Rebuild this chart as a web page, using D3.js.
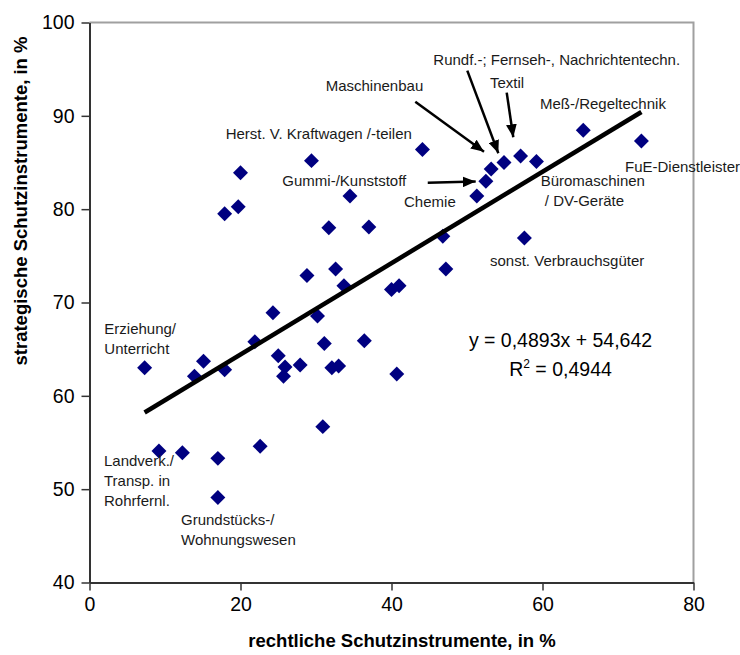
<!DOCTYPE html>
<html lang="de">
<head>
  <meta charset="UTF-8">
  <title>Schutzinstrumente</title>
  <script src="https://d3js.org/d3.v7.min.js"></script>
  <style>
    body { margin: 0; background: #fff; }
    svg { display: block; font-family: "Liberation Sans", Arial, sans-serif; }
    .tick text { font-size: 19.5px; fill: #000; }
    .lbl { font-size: 15px; fill: #1a1a1a; }
  </style>
</head>
<body>
  <svg id="chart" width="740" height="655"></svg>
  <script>
    // rechtliche Schutzinstrumente (x) / strategische Schutzinstrumente (y), in %
    const rechtlich = [7.3, 9.2, 12.3, 13.9, 15.1, 17.0, 17.0, 17.9, 17.9, 19.7, 20.0, 21.9, 22.6, 24.3, 25.0, 25.9,
      25.7, 27.9, 28.8, 29.4, 30.2, 30.9, 31.1, 31.7, 32.1, 33.0, 32.6, 33.7, 34.5, 36.4, 37.0, 40.0, 41.0, 40.7,
      44.1, 46.8, 47.2, 51.3, 52.5, 53.2, 54.9, 57.1, 59.2, 57.6, 65.4, 73.1];
    const strategisch = [63.0, 54.1, 53.9, 62.1, 63.7, 53.3, 49.1, 62.8, 79.5, 80.25, 83.9, 65.8, 54.6, 68.9, 64.3, 63.1,
      62.1, 63.3, 72.9, 85.2, 68.55, 56.7, 65.6, 78.0, 63.0, 63.2, 73.6, 71.8, 81.4, 65.9, 78.1, 71.4, 71.8, 62.35,
      86.4, 77.1, 73.6, 81.4, 83.0, 84.3, 85.0, 85.7, 85.1, 76.9, 88.45, 87.3];

    const xTicks = [0, 20, 40, 60, 80];
    const yTicks = [40, 50, 60, 70, 80, 90, 100];

    // linear trend line as given in the chart
    const slope = 0.4893;
    const intercept = 54.642;

    // branch labels: anchor in data units (left edge, first line centre)
    const labels = [
      { text: ["Rundf.-; Fernseh-, Nachrichtentechn."], x: 45.54, y: 96.06 },
      { text: ["Maschinenbau"], x: 31.28, y: 93.2 },
      { text: ["Textil"], x: 53.05, y: 93.55 },
      { text: ["Meß-/Regeltechnik"], x: 59.67, y: 91.32 },
      { text: ["Herst. V. Kraftwagen /-teilen"], x: 18.04, y: 88.13 },
      { text: ["FuE-Dienstleister"], x: 70.93, y: 84.52 },
      { text: ["Gummi-/Kunststoff"], x: 25.54, y: 83.05 },
      { text: ["Büromaschinen", " / DV-Geräte"], x: 59.76, y: 83.05 },
      { text: ["Chemie"], x: 41.66, y: 80.8 },
      { text: ["sonst. Verbrauchsgüter"], x: 53.05, y: 74.52 },
      { text: ["Erziehung/", "Unterricht"], x: 1.96, y: 67.16 },
      { text: ["Landverk./", "Transp. in", "Rohrfernl."], x: 1.92, y: 53.05 },
      { text: ["Grundstücks-/", "Wohnungswesen"], x: 12.12, y: 46.77 }
    ];

    // arrows from label to point, data units
    const arrows = [
      { x1: 43.15, y1: 91.5, x2: 52.25, y2: 86.15 },
      { x1: 50.04, y1: 94.84, x2: 54.15, y2: 85.99 },
      { x1: 55.26, y1: 92.48, x2: 56.13, y2: 87.7 },
      { x1: 44.8, y1: 82.83, x2: 51.15, y2: 82.96 }
    ];

    const svg = d3.select("#chart");
    const mLeft = 89.5, mRight = 693.5, mTop = 22.5, mBottom = 582.5;

    const x = d3.scaleLinear().domain([0, 80]).range([mLeft, mRight]);
    const y = d3.scaleLinear().domain([40, 100]).range([mBottom, mTop]);

    // plot frame (grey top/right)
    svg.append("path")
      .attr("d", `M${mLeft},${mTop}H${mRight}V${mBottom}`)
      .attr("fill", "none")
      .attr("stroke", "#a0a0a0")
      .attr("stroke-width", 2);

    const yAxis = svg.append("g")
      .attr("transform", `translate(${mLeft},0)`)
      .call(d3.axisLeft(y).tickValues(yTicks).tickSize(8).tickSizeOuter(0).tickPadding(7).tickFormat(d3.format("d")));
    const xAxis = svg.append("g")
      .attr("transform", `translate(0,${mBottom})`)
      .call(d3.axisBottom(x).tickValues(xTicks).tickSize(8).tickSizeOuter(0).tickPadding(6).tickFormat(d3.format("d")));
    [xAxis, yAxis].forEach(a => {
      a.attr("font-family", null).attr("font-size", null);
      a.select(".domain").attr("stroke", "#333").attr("stroke-width", 2);
      a.selectAll(".tick line").attr("stroke", "#333").attr("stroke-width", 1.5);
    });
    xAxis.selectAll(".tick text").attr("dy", "0.75em");

    // axis titles
    svg.append("text")
      .attr("x", 402)
      .attr("y", 647)
      .attr("text-anchor", "middle")
      .attr("font-size", 18.5)
      .attr("font-weight", "bold")
      .text("rechtliche Schutzinstrumente, in %");
    svg.append("text")
      .attr("transform", "translate(27,201) rotate(-90)")
      .attr("text-anchor", "middle")
      .attr("font-size", 18.5)
      .attr("font-weight", "bold")
      .text("strategische Schutzinstrumente, in %");

    // arrow head
    svg.append("defs").append("marker")
      .attr("id", "head")
      .attr("viewBox", "0 0 12 10")
      .attr("refX", 12).attr("refY", 5)
      .attr("markerWidth", 13).attr("markerHeight", 11)
      .attr("markerUnits", "userSpaceOnUse")
      .attr("orient", "auto")
      .append("path").attr("d", "M0,0L12,5L0,10z").attr("fill", "#000");

    svg.append("g").selectAll("line")
      .data(arrows)
      .enter().append("line")
      .attr("x1", d => x(d.x1)).attr("y1", d => y(d.y1))
      .attr("x2", d => x(d.x2)).attr("y2", d => y(d.y2))
      .attr("stroke", "#000")
      .attr("stroke-width", 2.5)
      .attr("marker-end", "url(#head)");

    // points
    svg.append("g").selectAll("path")
      .data(rechtlich.map((v, i) => [v, strategisch[i]]))
      .enter().append("path")
      .attr("d", d3.symbol().type(d3.symbolSquare).size(112))
      .attr("transform", d => `translate(${x(d[0])},${y(d[1])}) rotate(45)`)
      .attr("fill", "#000080");

    // trend line
    const x0 = d3.min(rechtlich), x1 = d3.max(rechtlich);
    svg.append("line")
      .attr("x1", x(x0)).attr("y1", y(slope * x0 + intercept))
      .attr("x2", x(x1)).attr("y2", y(slope * x1 + intercept))
      .attr("stroke", "#000")
      .attr("stroke-width", 4.5);

    // labels
    const lbl = svg.append("g").selectAll("text")
      .data(labels)
      .enter().append("text")
      .attr("class", "lbl")
      .attr("x", d => x(d.x))
      .attr("y", d => y(d.y));
    lbl.selectAll("tspan")
      .data(d => d.text.map((t, i) => ({ t, i, x: x(d.x) })))
      .enter().append("tspan")
      .attr("x", d => d.x)
      .attr("dy", d => d.i === 0 ? "0.35em" : "20px")
      .style("white-space", "pre")
      .text(d => d.t);

    // equation
    const eq = svg.append("text")
      .attr("font-size", 19.5)
      .attr("text-anchor", "middle")
      .attr("x", 560.5)
      .attr("y", y(65.91));
    eq.append("tspan").attr("x", 560.5).attr("dy", "0.35em").text("y = 0,4893x + 54,642");
    const r2 = eq.append("tspan").attr("x", 560.5).attr("dy", "29px");
    r2.append("tspan").text("R");
    r2.append("tspan").attr("font-size", 12).attr("dy", "-8px").text("2");
    r2.append("tspan").attr("dy", "8px").text(" = 0,4944");
  </script>
</body>
</html>
